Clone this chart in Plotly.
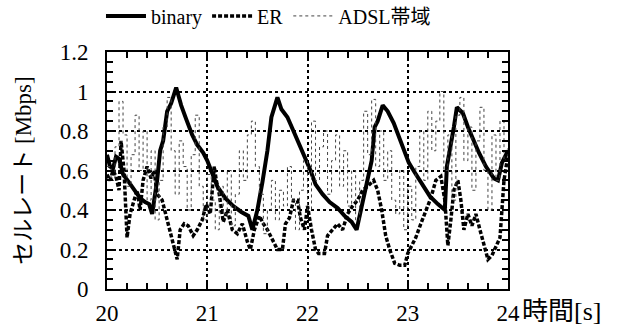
import plotly.graph_objects as go

# binary
bin_t = [20.00, 20.03, 20.06, 20.09, 20.12, 20.16, 20.22, 20.28, 20.33, 20.38, 20.42, 20.45,
         20.50, 20.53, 20.56, 20.60, 20.64, 20.69, 20.74, 20.79, 20.85, 20.90, 20.96, 21.00,
         21.05, 21.10, 21.18, 21.26, 21.34, 21.41, 21.45, 21.50, 21.55, 21.60, 21.64, 21.70,
         21.74, 21.80, 21.86, 21.91, 21.97, 22.03, 22.08, 22.15, 22.22, 22.30, 22.37, 22.44,
         22.49, 22.53, 22.58, 22.64, 22.67, 22.70, 22.75, 22.80, 22.86, 22.91, 22.96, 23.01,
         23.07, 23.14, 23.22, 23.30, 23.37, 23.39, 23.43, 23.46, 23.49, 23.55, 23.60, 23.65,
         23.71, 23.78, 23.86, 23.90, 23.94, 24.00]
bin_v = [0.68, 0.62, 0.61, 0.67, 0.66, 0.58, 0.54, 0.50, 0.46, 0.44, 0.43, 0.38,
         0.55, 0.70, 0.75, 0.90, 0.94, 1.02, 0.93, 0.86, 0.78, 0.73, 0.69, 0.65,
         0.58, 0.52, 0.46, 0.42, 0.39, 0.37, 0.30, 0.40, 0.54, 0.70, 0.87, 0.97,
         0.91, 0.87, 0.80, 0.74, 0.68, 0.60, 0.53, 0.48, 0.44, 0.41, 0.37, 0.34,
         0.30, 0.40, 0.50, 0.65, 0.82, 0.85, 0.93, 0.90, 0.84, 0.77, 0.70, 0.64,
         0.59, 0.53, 0.47, 0.43, 0.40, 0.62, 0.72, 0.82, 0.92, 0.89, 0.82, 0.76,
         0.69, 0.62, 0.56, 0.55, 0.64, 0.70]

# ER
er_t = [20.00, 20.03, 20.06, 20.09, 20.12, 20.14, 20.17, 20.20, 20.23, 20.27, 20.30, 20.33,
        20.36, 20.40, 20.44, 20.47, 20.50, 20.55, 20.60, 20.64, 20.68, 20.70, 20.73, 20.77,
        20.81, 20.86, 20.90, 20.95, 20.99, 21.03, 21.07, 21.09, 21.12, 21.16, 21.20, 21.25,
        21.30, 21.35, 21.40, 21.43, 21.47, 21.52, 21.56, 21.60, 21.65, 21.70, 21.75, 21.78,
        21.82, 21.86, 21.90, 21.93, 21.97, 22.00, 22.04, 22.08, 22.11, 22.17, 22.20, 22.25,
        22.30, 22.35, 22.40, 22.45, 22.50, 22.55, 22.60, 22.66, 22.70, 22.74, 22.78, 22.82,
        22.87, 22.92, 22.97, 23.00, 23.04, 23.08, 23.13, 23.18, 23.23, 23.28, 23.33, 23.37,
        23.40, 23.43, 23.46, 23.50, 23.53, 23.56, 23.60, 23.64, 23.68, 23.72, 23.76, 23.80,
        23.84, 23.88, 23.92, 23.96, 24.00]
er_v = [0.58, 0.55, 0.60, 0.57, 0.50, 0.75, 0.60, 0.26, 0.38, 0.45, 0.50, 0.40,
        0.55, 0.62, 0.56, 0.60, 0.48, 0.45, 0.35, 0.28, 0.20, 0.15, 0.30, 0.33,
        0.32, 0.27, 0.30, 0.35, 0.43, 0.38, 0.62, 0.55, 0.48, 0.34, 0.40, 0.30,
        0.28, 0.33, 0.24, 0.20, 0.30, 0.37, 0.33, 0.30, 0.25, 0.20, 0.20, 0.33,
        0.36, 0.45, 0.45, 0.36, 0.30, 0.42, 0.30, 0.20, 0.18, 0.18, 0.27, 0.30,
        0.33, 0.30, 0.38, 0.42, 0.45, 0.50, 0.52, 0.55, 0.50, 0.40, 0.27, 0.20,
        0.13, 0.12, 0.12, 0.18, 0.22, 0.26, 0.33, 0.40, 0.46, 0.55, 0.57, 0.45,
        0.22, 0.35, 0.50, 0.55, 0.45, 0.30, 0.38, 0.32, 0.38, 0.30, 0.22, 0.15,
        0.17, 0.22, 0.26, 0.55, 0.68]

# ADSL帯域 (sampled every 0.04 s from 20.00 to 24.00)
adsl_t = [round(20 + 0.04 * i, 2) for i in range(101)]
adsl_v = [0.62, 0.55, 0.72, 0.95, 0.78, 0.52, 0.68, 0.88, 0.60, 0.80, 0.45, 0.70, 0.35,
          0.55, 0.82, 0.97, 0.70, 0.48, 0.75, 0.62, 0.40, 0.68, 0.88, 0.52, 0.35, 0.58,
          0.45, 0.30, 0.52, 0.38, 0.60, 0.32, 0.48, 0.70, 0.55, 0.78, 0.85, 0.62, 0.48,
          0.28, 0.40, 0.55, 0.35, 0.50, 0.42, 0.62, 0.45, 0.30, 0.50, 0.65, 0.40,
          0.85, 0.55, 0.72, 0.80, 0.48, 0.65, 0.78, 0.52, 0.70, 0.42, 0.60, 0.35, 0.55,
          0.90, 0.68, 0.96, 0.62, 0.80, 0.55, 0.70, 0.45, 0.38, 0.60, 0.30, 0.52,
          0.35, 0.62, 0.80, 0.55, 0.90, 0.70, 0.85, 1.00, 0.60, 0.78, 0.45, 0.88, 0.97,
          0.65, 0.82, 0.50, 0.75, 0.92, 0.60, 0.40, 0.78, 0.55, 0.85, 0.65, 0.72]

x_ticks = [20, 21, 22, 23, 24]
y_ticks = [0, 0.2, 0.4, 0.6, 0.8, 1.0, 1.2]
y_tick_text = ["0", "0.2", "0.4", "0.6", "0.8", "1", "1.2"]

SERIF = "'Liberation Serif', 'Noto Sans CJK JP', serif"

fig = go.Figure()
fig.add_trace(go.Scatter(x=bin_t, y=bin_v, mode="lines", name="binary",
                         line=dict(color="black", width=4)))
fig.add_trace(go.Scatter(x=er_t, y=er_v, mode="lines", name="ER",
                         line=dict(color="black", width=3.5, dash="4px,2px")))
fig.add_trace(go.Scatter(x=adsl_t, y=adsl_v, mode="lines", name="ADSL帯域",
                         line=dict(color="#444444", width=1, dash="dot", shape="hv")))

axis_common = dict(
    showline=True, linecolor="black", linewidth=2, mirror="allticks",
    ticks="inside", ticklen=6, tickwidth=2, tickcolor="black",
    showgrid=True, gridcolor="black", gridwidth=1.5, griddash="dot",
    zeroline=False,
    tickfont=dict(family=SERIF, size=23, color="black"),
)

fig.update_xaxes(range=[20, 24], tickvals=x_ticks,
                 minor=dict(dtick=0.2, ticks="inside", ticklen=6, tickwidth=2,
                            tickcolor="black", showgrid=False),
                 ticklabelstandoff=2, **axis_common)
fig.update_yaxes(range=[0, 1.2], tickvals=y_ticks, ticktext=y_tick_text,
                 minor=dict(dtick=0.05, ticks="inside", ticklen=6, tickwidth=2,
                            tickcolor="black", showgrid=False),
                 ticklabelstandoff=12,
                 title=dict(text="セルレート [Mbps]", standoff=22,
                            font=dict(family=SERIF, size=23, color="black")),
                 **axis_common)

fig.add_annotation(text="時間[s]", x=1.0, y=0, xref="paper", yref="paper",
                   xanchor="left", yanchor="top", xshift=12, yshift=-6,
                   showarrow=False, font=dict(family=SERIF, size=26, color="black"))

fig.update_layout(
    width=617, height=328,
    margin=dict(l=107, r=109, t=52, b=39, autoexpand=False),
    paper_bgcolor="white", plot_bgcolor="white",
    showlegend=True,
    legend=dict(orientation="h", x=-0.015, y=1.07, xanchor="left", yanchor="bottom",
                font=dict(family=SERIF, size=20, color="black"),
                bgcolor="rgba(0,0,0,0)", itemwidth=40, tracegroupgap=0),
)

fig.write_html("out.html", config={"displayModeBar": False},
               post_script="document.body.style.margin='0';document.body.style.overflow='hidden';")
